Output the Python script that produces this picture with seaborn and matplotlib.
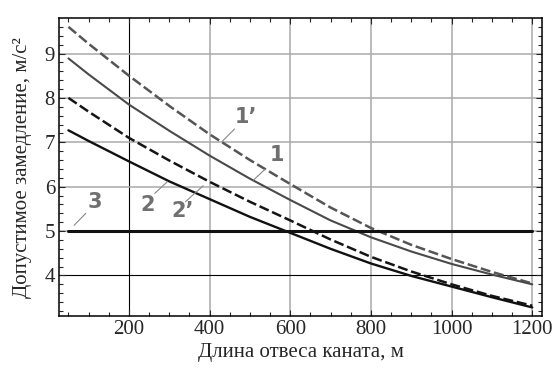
import numpy as np
import pandas as pd
import matplotlib
matplotlib.use("Agg")
import matplotlib.pyplot as plt
import seaborn as sns

# values
length_m = [50, 100, 200, 300, 400, 500, 600, 700, 800, 900, 1000, 1100, 1200]
curve_1p = [9.60, 9.22, 8.50, 7.82, 7.18, 6.60, 6.06, 5.53, 5.07, 4.69, 4.37, 4.08, 3.82]
curve_1 = [8.89, 8.53, 7.85, 7.26, 6.70, 6.18, 5.70, 5.24, 4.86, 4.54, 4.26, 4.02, 3.80]
curve_2p = [8.00, 7.69, 7.10, 6.59, 6.11, 5.66, 5.24, 4.81, 4.42, 4.09, 3.80, 3.54, 3.32]
curve_2 = [7.27, 7.03, 6.57, 6.12, 5.72, 5.32, 4.96, 4.60, 4.27, 3.99, 3.75, 3.51, 3.28]
limit_3 = [5.0] * len(length_m)

x_ticks = [200, 400, 600, 800, 1000, 1200]
y_ticks = [4, 5, 6, 7, 8, 9]

df = pd.DataFrame({"L": length_m, "1p": curve_1p, "1": curve_1,
                   "2p": curve_2p, "2": curve_2, "3": limit_3})

sns.set_theme(style="ticks")
plt.rcParams["font.family"] = ["Liberation Serif", "DejaVu Serif"]

fig = plt.figure(figsize=(5.53, 3.69), dpi=100)
ax = fig.add_axes([0.107, 0.144, 0.873, 0.806])

# grid
for xv in x_ticks:
    ax.axvline(xv, color="black" if xv == 200 else "#aaaaaa", lw=0.8 if xv == 200 else 1.1, zorder=0)
for yv in y_ticks:
    ax.axhline(yv, color="black" if yv == 4 else "#aaaaaa", lw=0.8 if yv == 4 else 1.1, zorder=0)

dash = (0, (4, 1.5))
sns.lineplot(data=df, x="L", y="1p", ax=ax, color="#555555", lw=1.8, linestyle=dash)
sns.lineplot(data=df, x="L", y="1", ax=ax, color="#4a4a4a", lw=1.5)
sns.lineplot(data=df, x="L", y="2p", ax=ax, color="#151515", lw=1.8, linestyle=dash)
sns.lineplot(data=df, x="L", y="2", ax=ax, color="#111111", lw=1.7)
sns.lineplot(data=df, x="L", y="3", ax=ax, color="#111111", lw=2.2)

# curve labels with short leader lines
lab_color = "#707070"
labels = [("1’", 489, 7.57, (431, 7.02), (462, 7.30)),
          ("1", 566, 6.71, (509, 6.15), (537, 6.39)),
          ("2", 246, 5.58, (264, 5.85), (295, 6.11)),
          ("2’", 333, 5.45, (340, 5.66), (384, 6.02)),
          ("3", 115, 5.65, (64, 5.13), (93, 5.40))]
for txt, tx, ty, p0, p1 in labels:
    ax.plot([p0[0], p1[0]], [p0[1], p1[1]], color="#888888", lw=0.8)
    ax.text(tx, ty, txt, color=lab_color, fontsize=15, fontweight="bold",
            ha="center", va="center", family=["DejaVu Sans"])

ax.set_xlim(27, 1224)
ax.set_ylim(3.09, 9.79)
ax.set_xticks(x_ticks)
ax.set_yticks(y_ticks)
ax.set_xticks(np.arange(50, 1224, 50), minor=True)
ax.set_yticks(np.arange(3.2, 9.79, 0.2), minor=True)
ax.tick_params(which="both", direction="in", top=True, right=True, labelsize=15, pad=3)
ax.tick_params(which="major", length=4, width=0.8)
ax.tick_params(which="minor", length=3, width=0.8)
for s in ax.spines.values():
    s.set_color("black")
    s.set_linewidth(1.1)

ax.set_xlabel("Длина отвеса каната, м", fontsize=15, labelpad=3)
ax.set_ylabel("Допустимое замедление, м/с²", fontsize=15, labelpad=9)

fig.savefig("out.png", dpi=100)
